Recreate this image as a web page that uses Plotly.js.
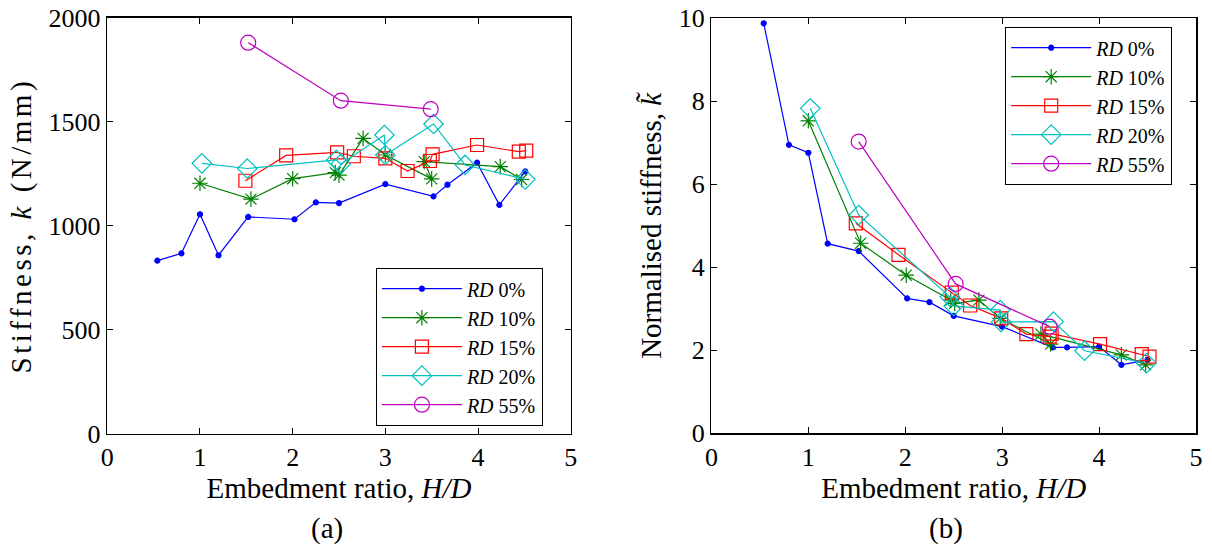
<!DOCTYPE html>
<html>
<head>
<meta charset="utf-8">
<script src="https://cdn.plot.ly/plotly-3.0.1.min.js"></script>
<style>html,body{margin:0;padding:0;background:#fff;}#chart{width:1212px;height:544px;}</style>
</head>
<body>
<div id="chart"></div>
<script>
// ---- Data: (a) stiffness k (N/mm) vs H/D ----
const rd0_x  = [0.54, 0.80, 1.00, 1.20, 1.52, 2.02, 2.25, 2.50, 3.00, 3.52, 3.67, 3.99, 4.23, 4.51];
const rd0_k  = [832, 867, 1055, 858, 1042, 1031, 1112, 1109, 1200, 1141, 1197, 1303, 1100, 1261];
const rd10_x = [1.00, 1.55, 2.00, 2.46, 2.50, 2.76, 3.00, 3.50, 3.42, 4.24, 4.47];
const rd10_k = [1204, 1128, 1226, 1255, 1243, 1420, 1340, 1225, 1308, 1284, 1222];
const rd15_x = [1.49, 1.93, 2.48, 2.66, 3.00, 3.24, 3.48, 3.51, 3.99, 4.44, 4.52];
const rd15_k = [1216, 1338, 1353, 1334, 1324, 1263, 1311, 1343, 1388, 1356, 1361];
const rd20_x = [1.02, 1.51, 2.47, 2.52, 2.99, 3.00, 3.52, 3.86, 4.51];
const rd20_k = [1300, 1275, 1316, 1297, 1436, 1340, 1489, 1292, 1223];
const rd55_x = [1.52, 2.52, 3.49];
const rd55_k = [1880, 1601, 1560];

// ---- Data: (b) normalised stiffness vs H/D ----
const rd0_xb  = [0.54, 0.80, 1.00, 1.20, 1.52, 2.02, 2.25, 2.50, 3.00, 3.52, 3.67, 4.00, 4.23, 4.50];
const rd0_n   = [9.88, 6.95, 6.76, 4.57, 4.39, 3.25, 3.16, 2.83, 2.57, 2.07, 2.07, 2.09, 1.65, 1.77];
const rd10_xb = [1.00, 1.54, 2.01, 2.47, 2.51, 2.76, 2.98, 3.50, 3.40, 4.23, 4.48];
const rd10_n  = [7.53, 4.58, 3.81, 3.21, 3.13, 3.21, 2.77, 2.15, 2.39, 1.89, 1.65];
const rd15_xb = [1.49, 1.93, 2.48, 2.67, 2.99, 3.25, 3.49, 3.51, 4.01, 4.44, 4.52];
const rd15_n  = [5.06, 4.30, 3.39, 3.08, 2.77, 2.39, 2.33, 2.40, 2.15, 1.91, 1.85];
const rd20_xb = [1.02, 1.52, 2.46, 2.50, 2.98, 2.99, 3.53, 3.85, 4.49];
const rd20_n  = [7.83, 5.26, 3.29, 3.07, 2.97, 2.68, 2.69, 1.99, 1.69];
const rd55_xb = [1.52, 2.52, 3.49];
const rd55_n  = [7.03, 3.60, 2.57];

const seriesNames = ['<i>RD</i> 0%', '<i>RD</i> 10%', '<i>RD</i> 15%', '<i>RD</i> 20%', '<i>RD</i> 55%'];
const xTicks = [0, 1, 2, 3, 4, 5];
const yTicksA = [0, 500, 1000, 1500, 2000];
const yTicksB = [0, 2, 4, 6, 8, 10];

const colors = ['#0000ff', '#008000', '#ff0000', '#00bfbf', '#bf00bf'];
const markers = [
  {symbol: 'circle', size: 5},
  {symbol: 'asterisk-open', size: 13},
  {symbol: 'square-open', size: 13},
  {symbol: 'diamond-open', size: 15},
  {symbol: 'circle-open', size: 15}
];

const dataA = [[rd0_x, rd0_k], [rd10_x, rd10_k], [rd15_x, rd15_k], [rd20_x, rd20_k], [rd55_x, rd55_k]];
const dataB = [[rd0_xb, rd0_n], [rd10_xb, rd10_n], [rd15_xb, rd15_n], [rd20_xb, rd20_n], [rd55_xb, rd55_n]];

function mk(d, i, xa, ya, leg) {
  return {
    x: d[0], y: d[1], xaxis: xa, yaxis: ya, legend: leg,
    type: 'scatter', mode: 'lines+markers', name: seriesNames[i],
    line: {color: colors[i], width: 1.2},
    marker: {symbol: markers[i].symbol, size: markers[i].size, color: colors[i],
             line: {color: colors[i], width: 1.2}}
  };
}
const traces = [];
dataA.forEach((d, i) => traces.push(mk(d, i, 'x', 'y', 'legend')));
dataB.forEach((d, i) => traces.push(mk(d, i, 'x2', 'y2', 'legend2')));

const font = "'Liberation Serif', 'Times New Roman', serif";
const axBase = {
  showline: true, linecolor: '#000', linewidth: 1.5, mirror: 'ticks',
  ticks: 'inside', ticklen: 6, tickwidth: 1, tickcolor: '#000',
  showgrid: false, zeroline: false,
  tickfont: {family: font, size: 26, color: '#000'}
};
const titleFont = {family: font, size: 29, color: '#000'};
const legBase = {
  font: {family: font, size: 20, color: '#000'},
  bordercolor: '#000', borderwidth: 1.2, bgcolor: '#fff',
  xanchor: 'left', yanchor: 'top', itemwidth: 80, tracegroupgap: 0
};

const layout = {
  width: 1212, height: 544,
  margin: {l: 0, r: 0, t: 0, b: 0},
  paper_bgcolor: '#fff', plot_bgcolor: '#fff',
  font: {family: font, color: '#000'},
  showlegend: true,
  xaxis: Object.assign({}, axBase, {
    domain: [107.3/1212, 570.7/1212], range: [0, 5], tickvals: xTicks, anchor: 'y',
    title: {text: 'Embedment ratio, <i>H/D</i>', font: titleFont, standoff: 2}
  }),
  yaxis: Object.assign({}, axBase, {
    domain: [1 - 433.7/544, 1 - 17.7/544], range: [0, 2000], tickvals: yTicksA, anchor: 'x',
    title: {text: 'Stiffness, <i>k</i> (N/mm)', font: titleFont, standoff: 8}
  }),
  xaxis2: Object.assign({}, axBase, {
    domain: [711.4/1212, 1196/1212], range: [0, 5], tickvals: xTicks, anchor: 'y2',
    title: {text: 'Embedment ratio, <i>H/D</i>', font: titleFont, standoff: 2}
  }),
  yaxis2: Object.assign({}, axBase, {
    domain: [1 - 433.3/544, 1 - 18.3/544], range: [0, 10], tickvals: yTicksB, anchor: 'x2',
    title: {text: 'Normalised stiffness, <i>k\u0303</i>', font: titleFont, standoff: 8}
  }),
  legend: Object.assign({}, legBase, {x: 375.7/1212, y: 1 - 268/544}),
  legend2: Object.assign({}, legBase, {x: 1005/1212, y: 1 - 27/544}),
  annotations: [
    {text: '(a)', xref: 'paper', yref: 'paper', x: 327/1212, y: 1 - 528/544,
     showarrow: false, font: titleFont, xanchor: 'center', yanchor: 'middle'},
    {text: '(b)', xref: 'paper', yref: 'paper', x: 946/1212, y: 1 - 528/544,
     showarrow: false, font: titleFont, xanchor: 'center', yanchor: 'middle'}
  ]
};

Plotly.newPlot('chart', traces, layout, {displayModeBar: false, staticPlot: true}).then(() => {
  // the reference's left y-label is drawn stretched along its length
  document.querySelectorAll('.g-ytitle text').forEach(t => { t.style.letterSpacing = '3.5px'; });
});
</script>
</body>
</html>
